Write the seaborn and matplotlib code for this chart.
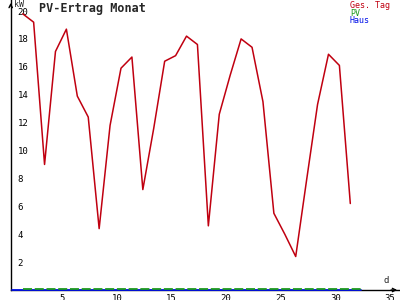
import numpy as np
import pandas as pd
import matplotlib
matplotlib.use("Agg")
import matplotlib.pyplot as plt
import seaborn as sns

# ---- data ----
days = list(range(1, 32))
ges_tag = [19.8, 19.2, 9.0, 17.1, 18.7, 13.9, 12.4, 4.4, 11.8, 15.9,
           16.7, 7.2, 11.6, 16.4, 16.8, 18.2, 17.6, 4.6, 12.6, 15.4,
           18.0, 17.4, 13.5, 5.5, 4.0, 2.4, 7.9, 13.3, 16.9, 16.1, 6.2]
pv_days = list(range(1, 33))
pv = [0.1] * 32
haus_days = list(range(0, 33))
haus = [0.0] * 33
x_ticks = [5, 10, 15, 20, 25, 30, 35]
y_ticks = [2, 4, 6, 8, 10, 12, 14, 16, 18, 20]
title = "PV-Ertrag Monat"
legend_labels = ["Ges. Tag", "PV", "Haus"]
x_offset = 0.37  # day values are drawn slightly right of the integer

sns.set_style("white")
plt.rcParams['font.family'] = ['DejaVu Sans Mono', 'DejaVu Sans']

RED = "#c00010"
GREEN = "#1f9a1f"
BLUE = "#0010e8"

fig = plt.figure(figsize=(4, 3), dpi=100)
ax = fig.add_axes([10.7 / 400, 10 / 300, 389.3 / 400, 290 / 300])

df_g = pd.DataFrame({"d": np.array(days) + x_offset, "v": ges_tag})
df_p = pd.DataFrame({"d": np.array(pv_days) + x_offset, "v": pv})
df_h = pd.DataFrame({"d": np.array(haus_days) + x_offset, "v": haus})

sns.lineplot(data=df_h, x="d", y="v", color=BLUE, linewidth=1.3, ax=ax, zorder=2)
sns.lineplot(data=df_p, x="d", y="v", color=GREEN, linewidth=1.3,
             linestyle=(0, (5, 1.5)), ax=ax, zorder=3)
sns.lineplot(data=df_g, x="d", y="v", color=RED, linewidth=1.1, ax=ax, zorder=4)
for ln in ax.lines:
    ln.set_clip_on(False)

ax.set_xlim(0.27, 35.92)
ax.set_ylim(0, 20.79)
ax.set_xlabel("")
ax.set_ylabel("")
for s in ["top", "right"]:
    ax.spines[s].set_visible(False)
for s in ["left", "bottom"]:
    ax.spines[s].set_color("black")
    ax.spines[s].set_linewidth(1.0)
    ax.spines[s].set_zorder(1)

ax.set_xticks(x_ticks)
ax.set_yticks(y_ticks)
ax.tick_params(axis="both", direction="inout", length=6, width=1, colors="black",
               labelsize=6.5)
ax.tick_params(axis="x", pad=0)
ax.tick_params(axis="y", pad=-8)
for lab in ax.get_yticklabels():
    lab.set_horizontalalignment("left")

# arrow heads on axes
ax.annotate("", xy=(0, 1.0), xytext=(0, 0.97), xycoords="axes fraction",
            arrowprops=dict(arrowstyle="->", color="black", lw=1.0,
                            mutation_scale=6), annotation_clip=False)
ax.annotate("", xy=(1.0, 0), xytext=(0.97, 0), xycoords="axes fraction",
            arrowprops=dict(arrowstyle="->", color="black", lw=1.0,
                            mutation_scale=6), annotation_clip=False)

fig.text(14 / 400, 1 - 0 / 300, "kW", fontsize=6, va="top", ha="left")
fig.text(384 / 400, 1 - 276 / 300, "d", fontsize=6.5, va="top", ha="left")
fig.text(39 / 400, 1 - 2 / 300, title, fontsize=8.5, fontweight="bold",
         va="top", ha="left")

for i, (lab, col) in enumerate(zip(legend_labels, [RED, GREEN, BLUE])):
    fig.text(350 / 400, 1 - (1 + 7.5 * i) / 300, lab, fontsize=6, color=col,
             va="top", ha="left")

fig.savefig("out.png", dpi=100)
